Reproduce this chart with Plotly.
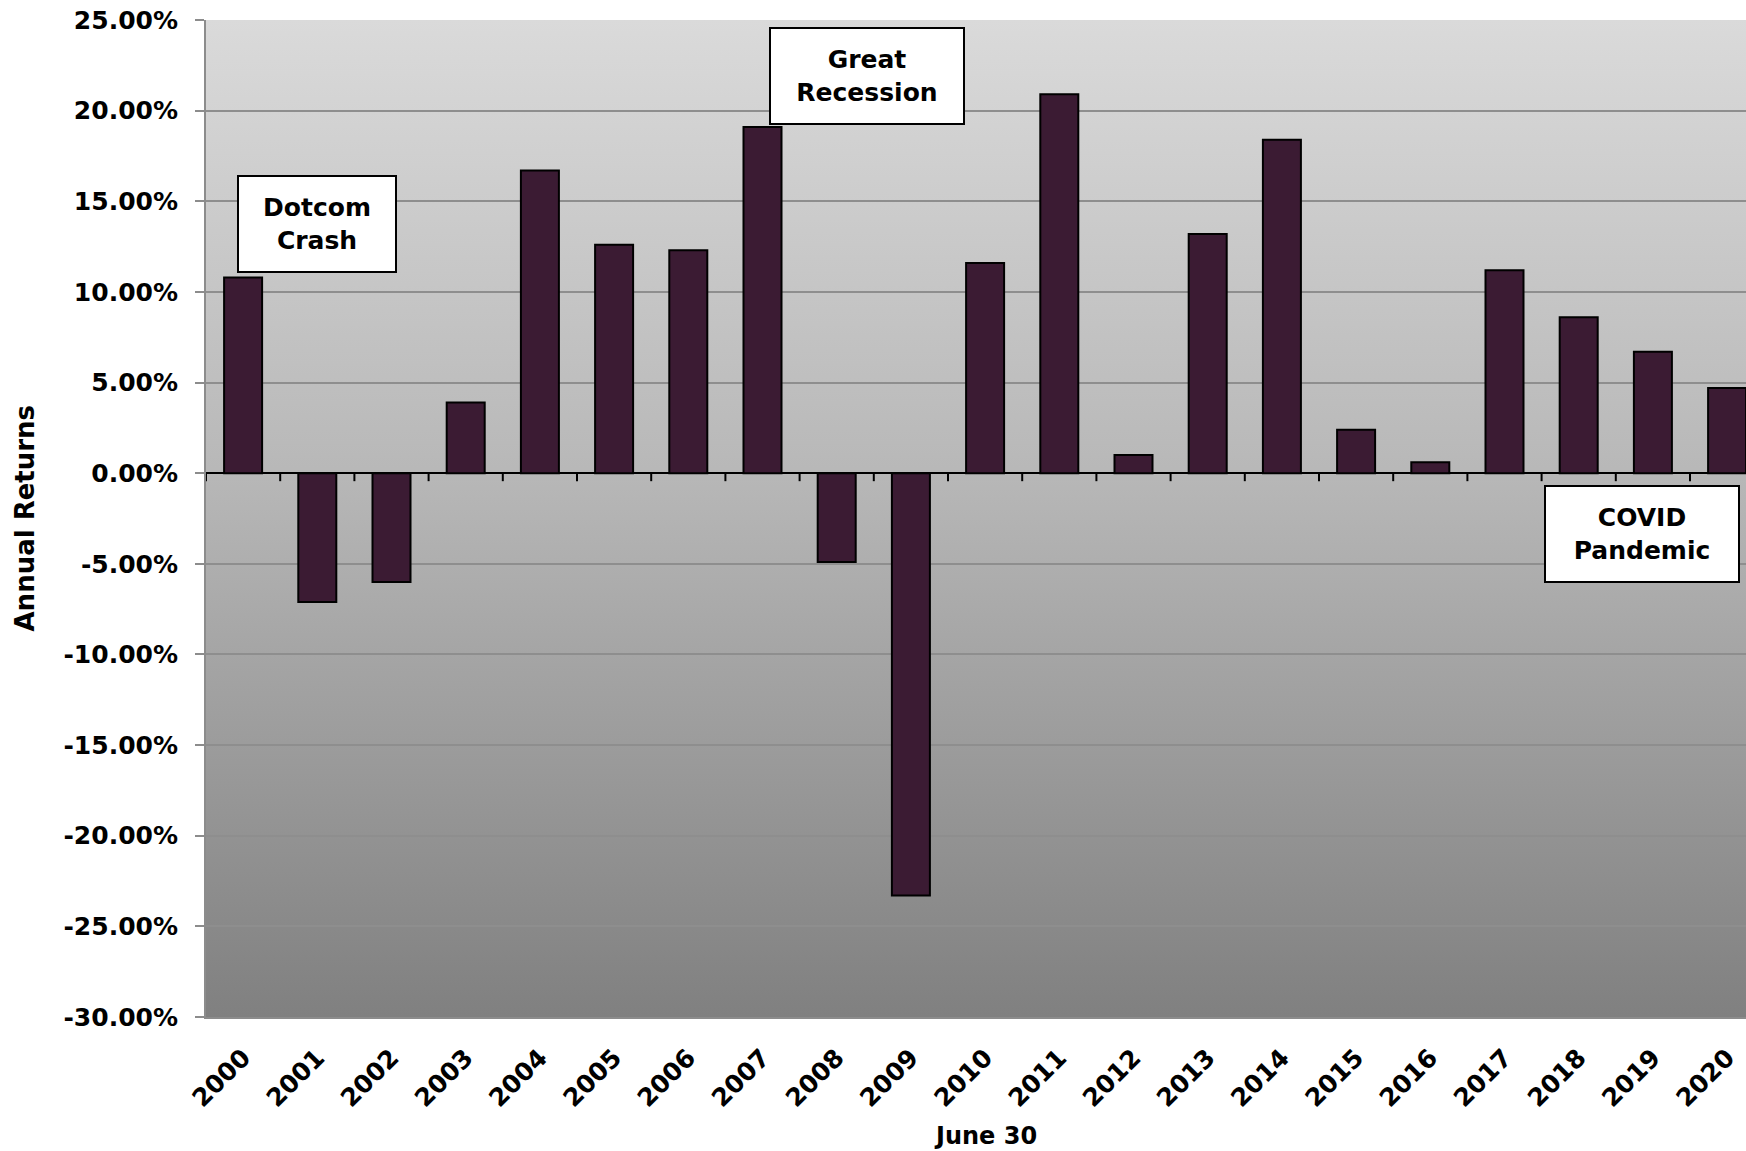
import base64
import plotly.graph_objects as go

years = ["2000", "2001", "2002", "2003", "2004", "2005", "2006", "2007", "2008", "2009", "2010",
         "2011", "2012", "2013", "2014", "2015", "2016", "2017", "2018", "2019", "2020"]
returns = [10.8, -7.1, -6.0, 3.9, 16.7, 12.6, 12.3, 19.1, -4.9, -23.3, 11.6,
           20.9, 1.0, 13.2, 18.4, 2.4, 0.6, 11.2, 8.6, 6.7, 4.7]
y_ticks = [25, 20, 15, 10, 5, 0, -5, -10, -15, -20, -25, -30]
y_tick_labels = [f"{v:.2f}%" for v in y_ticks]

events = ["Dotcom<br>Crash", "Great<br>Recession", "COVID<br>Pandemic"]
event_x = [1.0, 8.41, 18.85]
event_y = [13.76, 21.9, -3.36]
event_w = [156, 192, 192]

W, H = 1746, 1151
ML, MT, MB = 206, 20, 134
cat_px = 74.2
plot_w = W - ML
x_hi = -0.5 + plot_w / cat_px

svg = ('<svg xmlns="http://www.w3.org/2000/svg" width="100" height="100" preserveAspectRatio="none">'
       '<defs><linearGradient id="g" x1="0" y1="0" x2="0" y2="1">'
       '<stop offset="0" stop-color="#dadada"/><stop offset="0.45" stop-color="#b8b8b8"/>'
       '<stop offset="1" stop-color="#808080"/></linearGradient></defs>'
       '<rect width="100" height="100" fill="url(#g)"/></svg>')
svg_uri = "data:image/svg+xml;base64," + base64.b64encode(svg.encode()).decode()

FONT = "DejaVu Sans"

fig = go.Figure()
fig.add_trace(go.Bar(
    x=list(range(len(years))), y=returns,
    marker=dict(color="#3b1b33", line=dict(color="#000000", width=2)),
    hoverinfo="skip",
))

shapes = []
for i in range(len(years) + 1):
    shapes.append(dict(type="line", xref="x", yref="y", x0=i - 0.5, x1=i - 0.5,
                       ysizemode="pixel", yanchor=0, y0=0, y1=-8,
                       line=dict(color="#000000", width=2)))

annotations = []
for t, x, y, w in zip(events, event_x, event_y, event_w):
    annotations.append(dict(text=f"<b>{t}</b>", x=x, y=y, xref="x", yref="y",
                            xanchor="center", yanchor="middle", showarrow=False,
                            bgcolor="#ffffff", bordercolor="#000000", borderwidth=2,
                            borderpad=0, width=w, height=94, align="center",
                            font=dict(family=FONT, size=25, color="#000000")))
annotations.append(dict(text="<b>June 30</b>", x=10, xref="x", y=0, yref="paper",
                        xanchor="center", yanchor="middle", yshift=-119, showarrow=False,
                        font=dict(family=FONT, size=24, color="#000000")))
annotations.append(dict(text="<b>Annual Returns</b>", x=0, xref="paper", y=0.5, yref="paper",
                        xanchor="center", yanchor="middle", xshift=-182, textangle=-90,
                        showarrow=False, font=dict(family=FONT, size=26, color="#000000")))

fig.update_layout(
    width=W, height=H,
    margin=dict(l=ML, r=0, t=MT, b=MB, pad=0),
    paper_bgcolor="#ffffff",
    plot_bgcolor="rgba(0,0,0,0)",
    bargap=0.488,
    showlegend=False,
    shapes=shapes,
    annotations=annotations,
    images=[dict(source=svg_uri, xref="paper", yref="paper", x=0, y=1, sizex=1, sizey=1,
                 xanchor="left", yanchor="top", sizing="stretch", layer="below")],
    xaxis=dict(
        range=[-0.5, x_hi],
        tickmode="array", tickvals=list(range(len(years))), ticktext=[f"<b>{y}</b>" for y in years],
        tickangle=-45, ticks="", showgrid=False, zeroline=False,
        showline=True, linecolor="#8c8c8c", linewidth=2,
        tickfont=dict(family=FONT, size=25, color="#000000"),
        ticklabelstandoff=14,
    ),
    yaxis=dict(
        range=[-30, 25],
        tickmode="array", tickvals=y_ticks, ticktext=[f"<b>{t}</b>" for t in y_tick_labels],
        ticks="outside", ticklen=9, tickwidth=2, tickcolor="#8c8c8c",
        showgrid=True, gridcolor="#8e8e8e", gridwidth=1.5,
        zeroline=True, zerolinecolor="#000000", zerolinewidth=2,
        showline=True, linecolor="#8c8c8c", linewidth=2,
        tickfont=dict(family=FONT, size=25, color="#000000"),
        ticklabelstandoff=12,
    ),
)

fig.write_html("out.html")
